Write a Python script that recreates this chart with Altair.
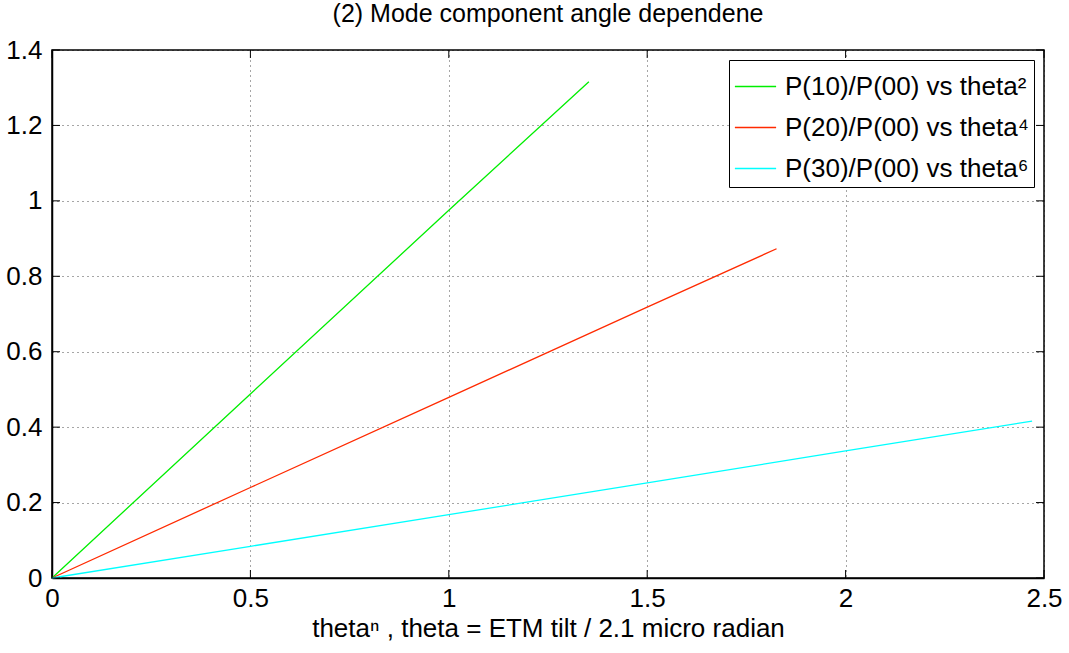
import altair as alt
import pandas as pd

series_names = ["P(10)/P(00) vs theta²", "P(20)/P(00) vs theta⁴", "P(30)/P(00) vs theta⁶"]
colors = ["#00ee00", "#ff2a00", "#00ffff"]

x_green = [0.0, 0.5, 1.0, 1.353]
y_green = [0.0, 0.488, 0.975, 1.316]
x_red = [0.0, 0.5, 1.0, 1.5, 1.826]
y_red = [0.0, 0.24, 0.479, 0.718, 0.873]
x_cyan = [0.0, 0.5, 1.0, 1.5, 2.0, 2.47]
y_cyan = [0.0, 0.084, 0.168, 0.252, 0.337, 0.416]

x_ticks = [0, 0.5, 1, 1.5, 2, 2.5]
y_ticks = [0, 0.2, 0.4, 0.6, 0.8, 1, 1.2, 1.4]

rows = []
for name, xs, ys in zip(series_names, [x_green, x_red, x_cyan], [y_green, y_red, y_cyan]):
    for i, (a, b) in enumerate(zip(xs, ys)):
        rows.append({"series": name, "x": a, "y": b, "i": i})
df = pd.DataFrame(rows)

FONT = "Liberation Sans"
W, H = 992, 528
TICK = 8

xs = alt.Scale(domain=[0, 2.5], nice=False)
ys = alt.Scale(domain=[0, 1.4], nice=False)

lines = alt.Chart(df).mark_line(strokeWidth=1.3).encode(
    x=alt.X("x:Q", scale=xs,
            axis=alt.Axis(values=x_ticks, title="thetaⁿ , theta = ETM tilt / 2.1 micro radian",
                          labelExpr="datum.value == 0 ? '0' : format(datum.value, '.1~f')")),
    y=alt.Y("y:Q", scale=ys,
            axis=alt.Axis(values=y_ticks, title=None,
                          labelExpr="datum.value == 0 ? '0' : (datum.value == 1 ? '1' : format(datum.value, '.1f'))")),
    color=alt.Color("series:N", scale=alt.Scale(domain=series_names, range=colors),
                    legend=alt.Legend(title=None, orient="top-right", offset=10,
                                      symbolType="stroke", symbolStrokeWidth=1.5, symbolSize=1700,
                                      labelFontSize=26, labelFont=FONT, labelColor="black",
                                      strokeColor="black", fillColor="white", padding=5,
                                      rowPadding=6, labelLimit=500, labelOffset=8)),
    order="i:Q",
)

xt = pd.DataFrame({"t": x_ticks})
yt = pd.DataFrame({"t": y_ticks})
tick_style = dict(color="black", strokeWidth=1)
xb = alt.Chart(xt).mark_rule(**tick_style).encode(x=alt.X("t:Q", scale=xs), y=alt.value(H), y2=alt.value(H - TICK))
xtop = alt.Chart(xt).mark_rule(**tick_style).encode(x=alt.X("t:Q", scale=xs), y=alt.value(0), y2=alt.value(TICK))
yl = alt.Chart(yt).mark_rule(**tick_style).encode(y=alt.Y("t:Q", scale=ys), x=alt.value(0), x2=alt.value(TICK))
yr = alt.Chart(yt).mark_rule(**tick_style).encode(y=alt.Y("t:Q", scale=ys), x=alt.value(W), x2=alt.value(W - TICK))

chart = alt.layer(lines, xb, xtop, yl, yr).properties(
    width=W, height=H,
    title=alt.TitleParams("(2) Mode component angle dependene", fontSize=25, font=FONT,
                          fontWeight="normal", color="black", offset=10),
    autosize=alt.AutoSizeParams(type="none"),
    padding={"left": 52, "top": 50, "right": 25, "bottom": 75},
).configure_view(
    stroke="black", strokeWidth=1.5
).configure_axis(
    grid=True, gridColor="black", gridDash=[1, 4], gridOpacity=0.7, gridWidth=1,
    domainColor="black", domainWidth=1.5, tickSize=0, ticks=False,
    labelFont=FONT, labelFontSize=26, labelColor="black",
    titleFont=FONT, titleFontSize=26, titleColor="black", titleFontWeight="normal",
).configure_axisX(
    labelPadding=7, titlePadding=4, labelFlush=False
).configure_axisY(
    labelPadding=10, labelFlush=False
)

chart.save("out.html", embed_options={"renderer": "svg", "actions": False})
